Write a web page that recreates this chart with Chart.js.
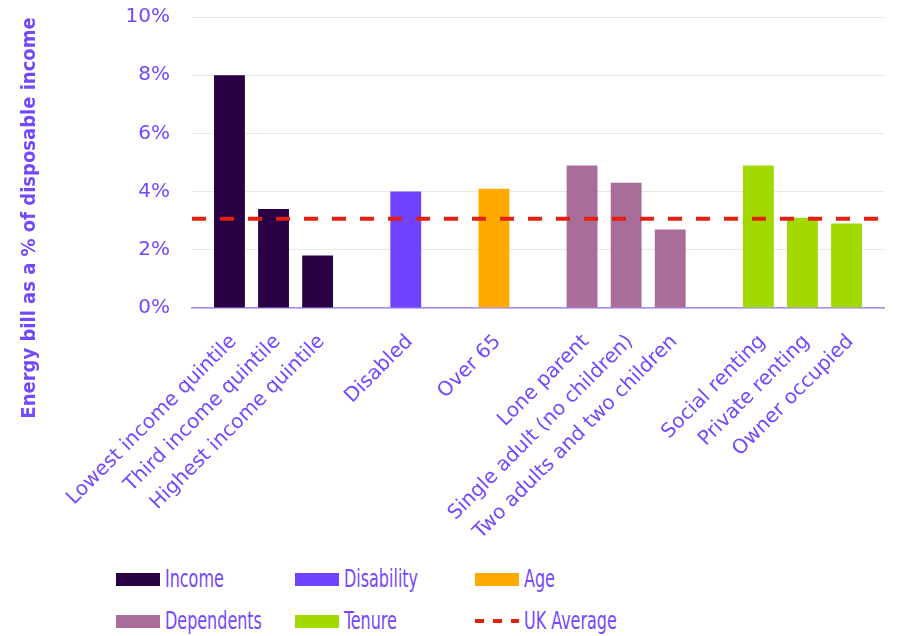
<!DOCTYPE html>
<html>
<head>
<meta charset="utf-8">
<script src="https://cdn.jsdelivr.net/npm/chart.js@4.4.1/dist/chart.umd.min.js"></script>
<style>
  body { margin: 0; background: #fff; }
  #wrap { position: relative; width: 899px; height: 636px; }
  #chartBox { position: absolute; left: 0; top: 0; width: 899px; height: 550px; }
  #legend { position: absolute; left: 0; top: 550px; width: 899px; height: 86px;
            font-family: 'DejaVu Sans Condensed', 'DejaVu Sans', sans-serif;
            font-size: 24px; color: #7448FF; }
  .item { position: absolute; display: flex; align-items: center; height: 26px; white-space: nowrap; }
  .swatch { width: 44px; height: 13px; margin-right: 5px; flex: none; }
  .dash { width: 44px; height: 4px; margin-right: 5px; flex: none;
          background: repeating-linear-gradient(to right, #E2200F 0 9px, transparent 9px 18px); }
  .item span { display: inline-block; transform: scaleX(0.74); transform-origin: left center; }
</style>
</head>
<body>
<div id="wrap">
  <div id="chartBox"><canvas id="chart"></canvas></div>
  <div id="legend"></div>
</div>
<script>
const categories = [
  'Lowest income quintile', 'Third income quintile', 'Highest income quintile', '',
  'Disabled', '',
  'Over 65', '',
  'Lone parent', 'Single adult (no children)', 'Two adults and two children', '',
  'Social renting', 'Private renting', 'Owner occupied'
];
const values = [8.0, 3.4, 1.8, null, 4.0, null, 4.1, null, 4.9, 4.3, 2.7, null, 4.9, 3.1, 2.9];
const groups = ['Income', 'Income', 'Income', null, 'Disability', null, 'Age', null,
  'Dependents', 'Dependents', 'Dependents', null, 'Tenure', 'Tenure', 'Tenure'];
const groupNames = ['Income', 'Disability', 'Age', 'Dependents', 'Tenure'];
const groupColors = ['#2A0044', '#7142FF', '#FFAA00', '#AA6C98', '#A2D900'];
const ukAverage = 3.07;
const averageLabel = 'UK Average';
const yTicks = [0, 2, 4, 6, 8, 10];
const yTitle = 'Energy bill as a % of disposable income';

const textColor = '#7448FF';
const avgColor = '#E2200F';
const xMin = -0.85;
const xMax = categories.length - 1 + 0.85;

const barPoints = [];
const barColors = [];
values.forEach(function (v, i) {
  if (v === null) return;
  barPoints.push({ x: i, y: v });
  barColors.push(groupColors[groupNames.indexOf(groups[i])]);
});

const yTitlePlugin = {
  id: 'yTitle',
  afterDraw: function (chart) {
    const ctx = chart.ctx;
    ctx.save();
    ctx.translate(30, 218);
    ctx.rotate(-Math.PI / 2);
    ctx.font = 'bold 20px "DejaVu Sans Condensed", "DejaVu Sans"';
    ctx.fillStyle = textColor;
    ctx.textAlign = 'center';
    ctx.textBaseline = 'middle';
    ctx.fillText(yTitle, 0, 0);
    ctx.restore();
  }
};

const ctx = document.getElementById('chart').getContext('2d');
new Chart(ctx, {
  data: {
    datasets: [{
      type: 'line',
      label: averageLabel,
      data: [{ x: xMin, y: ukAverage }, { x: xMax, y: ukAverage }],
      borderColor: avgColor,
      borderWidth: 4,
      borderDash: [14, 14],
      pointRadius: 0,
      fill: false,
      order: 0
    }, {
      type: 'bar',
      label: 'Groups',
      data: barPoints,
      backgroundColor: barColors,
      categoryPercentage: 1,
      barPercentage: 0.7,
      order: 1
    }]
  },
  options: {
    responsive: true,
    maintainAspectRatio: false,
    animation: false,
    layout: { padding: { top: 17, right: 15, left: 0, bottom: 0 } },
    plugins: {
      legend: { display: false },
      tooltip: { enabled: false }
    },
    scales: {
      x: {
        type: 'linear',
        offset: false,
        min: xMin,
        max: xMax,
        grid: { display: false },
        border: { color: '#A58BFF', width: 1.5 },
        ticks: {
          stepSize: 1,
          maxTicksLimit: 30,
          includeBounds: false,
          autoSkip: false,
          minRotation: 45,
          maxRotation: 45,
          padding: 14,
          labelOffset: 4,
          color: textColor,
          font: { family: 'DejaVu Sans', size: 20 },
          callback: function (value) {
            return Number.isInteger(value) ? categories[value] : '';
          }
        },
        afterFit: function (scale) { scale.height = 242; }
      },
      y: {
        min: yTicks[0],
        max: yTicks[yTicks.length - 1],
        grid: { color: '#E8E8E8', lineWidth: 1, drawTicks: true, tickLength: 22, tickColor: 'rgba(0,0,0,0)' },
        border: { display: false },
        ticks: {
          stepSize: yTicks[1] - yTicks[0],
          padding: 0,
          color: textColor,
          font: { family: 'DejaVu Sans', size: 20 },
          callback: function (value) { return value + '%'; }
        },
        afterFit: function (scale) { scale.width = 192; }
      }
    }
  },
  plugins: [yTitlePlugin]
});

// legend: 3 columns, 2 rows
const legend = document.getElementById('legend');
const colLefts = [116, 295, 475];
const rowTops = [16, 58];
const legendItems = groupNames.map(function (n, i) { return { name: n, color: groupColors[i] }; });
legendItems.push({ name: averageLabel, dashed: true });
legendItems.forEach(function (it, i) {
  const el = document.createElement('div');
  el.className = 'item';
  el.style.left = colLefts[i % 3] + 'px';
  el.style.top = rowTops[Math.floor(i / 3)] + 'px';
  const sw = document.createElement('div');
  if (it.dashed) {
    sw.className = 'dash';
  } else {
    sw.className = 'swatch';
    sw.style.background = it.color;
  }
  const tx = document.createElement('span');
  tx.textContent = it.name;
  el.appendChild(sw);
  el.appendChild(tx);
  legend.appendChild(el);
});
</script>
</body>
</html>
